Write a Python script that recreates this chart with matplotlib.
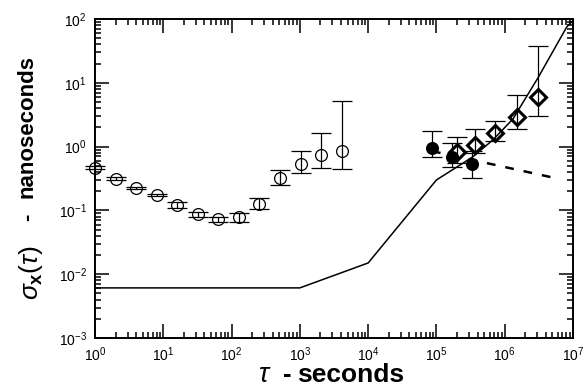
import matplotlib
matplotlib.use("Agg")
import matplotlib.pyplot as plt
import numpy as np
from matplotlib.ticker import LogLocator, NullFormatter

plt.rcParams['font.family'] = ['Liberation Sans', 'DejaVu Sans']
plt.rcParams['mathtext.fontset'] = 'custom'
plt.rcParams['mathtext.rm'] = 'Liberation Sans'
plt.rcParams['mathtext.it'] = 'Liberation Sans:italic'
plt.rcParams['mathtext.bf'] = 'Liberation Sans:bold'

# open circles (short-term data)
tau_open = [1, 2, 4, 8, 16, 32, 64, 128, 256, 512, 1024, 2048, 4096]
sig_open = [0.46, 0.31, 0.224, 0.174, 0.122, 0.088, 0.073, 0.079, 0.126, 0.32, 0.53, 0.74, 0.85]
lo_open = [0.44, 0.295, 0.213, 0.166, 0.109, 0.079, 0.066, 0.066, 0.105, 0.25, 0.385, 0.46, 0.446]
hi_open = [0.49, 0.33, 0.235, 0.183, 0.135, 0.094, 0.079, 0.091, 0.156, 0.43, 0.85, 1.63, 5.2]

# filled circles
tau_fill = [8.6e4, 1.7e5, 3.3e5]
sig_fill = [0.95, 0.69, 0.53]
lo_fill = [0.69, 0.48, 0.32]
hi_fill = [1.76, 1.14, 0.85]

# diamonds
tau_dia = [2.0e5, 3.7e5, 7.2e5, 1.5e6, 3.06e6]
sig_dia = [0.82, 1.06, 1.63, 2.91, 5.98]
lo_dia = [0.55, 0.79, 1.22, 1.89, 3.02]
hi_dia = [1.41, 1.89, 2.52, 6.44, 37.8]

# solid model curve
tau_model = [1, 1e3, 1e4, 1e5, 2e5, 3.4e5, 6.7e5, 1.32e6, 3.06e6, 8.1e6, 1e7]
sig_model = [0.0061, 0.0061, 0.015, 0.30, 0.48, 0.69, 1.27, 2.71, 11.9, 75, 95]

# dashed curve
tau_dash = [8.6e4, 6.4e6]
sig_dash = [0.85, 0.31]


def yerr(sig, lo, hi):
    sig = np.array(sig)
    return [sig - np.array(lo), np.array(hi) - sig]


W, H = 586, 387
fig = plt.figure(figsize=(W / 100, H / 100), dpi=100)
ax = fig.add_axes([95 / W, 1 - 338 / H, 478 / W, 319 / H])

ax.plot(tau_model, sig_model, color='k', lw=1.1, zorder=2)
ax.plot(tau_dash, sig_dash, color='k', lw=1.8, ls=(0, (3.5, 4)), zorder=2)

eb = dict(ecolor='k', elinewidth=0.9, capsize=7.5, capthick=0.9, ls='none', zorder=3)
ax.errorbar(tau_open, sig_open, yerr=yerr(sig_open, lo_open, hi_open),
            marker='o', ms=8.5, mfc='none', mec='k', mew=0.9, clip_on=False, **eb)
ax.errorbar(tau_fill, sig_fill, yerr=yerr(sig_fill, lo_fill, hi_fill),
            marker='o', ms=8.5, mfc='k', mec='k', mew=0.9, **eb)
ax.errorbar(tau_dia, sig_dia, yerr=yerr(sig_dia, lo_dia, hi_dia), marker='none', **eb)
ax.plot(tau_dia, sig_dia, ls='none', marker='D', ms=8, mfc='none', mec='k', mew=2.2, zorder=4)

ax.set_xscale('log')
ax.set_yscale('log')
ax.set_xlim(1, 1e7)
ax.set_ylim(1e-3, 1e2)

for axis in (ax.xaxis, ax.yaxis):
    axis.set_major_locator(LogLocator(base=10, numticks=20))
    axis.set_minor_locator(LogLocator(base=10, subs=np.arange(2, 10), numticks=20))
    axis.set_minor_formatter(NullFormatter())

ax.tick_params(which='both', direction='in', top=True, right=True, width=1.1,
               labelsize=10)
ax.tick_params(which='major', length=10)
ax.tick_params(which='minor', length=4.5)
ax.tick_params(axis='x', pad=5)
ax.tick_params(axis='y', pad=6)
for s in ax.spines.values():
    s.set_linewidth(1.4)

# axis titles, built from pieces to follow the original proportions
def px(x, y):
    return x / W, 1 - y / H

fig.text(*px(258, 382), r'$\tau$', fontsize=19.5, ha='left', va='baseline')
fig.text(*px(283, 382), '-', fontsize=18.5, fontweight='bold', ha='left', va='baseline')
fig.text(*px(297, 382), 'seconds', fontsize=19, fontweight='bold', ha='left', va='baseline')

fig.text(*px(38, 300), r'$\sigma_{\mathbf{x}}(\tau)$', fontsize=19, rotation=90,
         rotation_mode='anchor', ha='left', va='baseline')
fig.text(*px(33, 221), '-', fontsize=16, fontweight='bold', rotation=90,
         rotation_mode='anchor', ha='left', va='baseline')
fig.text(*px(33, 198), 'nanoseconds', fontsize=16, fontweight='bold', rotation=90,
         rotation_mode='anchor', ha='left', va='baseline')

plt.savefig('out.png', dpi=100)
plt.close()
